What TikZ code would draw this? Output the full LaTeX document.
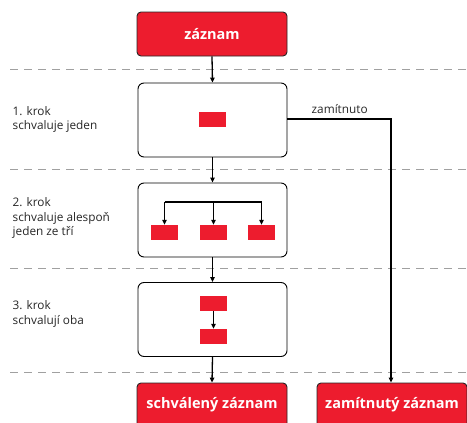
\documentclass[tikz,border=0pt]{standalone}
\usepackage{fontspec}
\setmainfont{Open Sans}
\usetikzlibrary{arrows.meta}
\definecolor{myred}{HTML}{ED1C2E}
\definecolor{dashgray}{HTML}{A0A0A0}
\begin{document}
\begin{tikzpicture}[x=1pt,y=-1pt,
  redbox/.style={draw=black!85,line width=0.9pt,fill=myred,rounded corners=4pt,minimum width=150pt,minimum height=44pt,inner sep=0pt,text=white,font=\fontsize{14.5}{16}\selectfont\bfseries},
  stepbox/.style={draw=black,line width=0.9pt,fill=white,rounded corners=6pt,minimum width=149pt,minimum height=74pt,inner sep=0pt},
  mini/.style={fill=myred,draw=none,minimum width=27pt,minimum height=15pt,inner sep=0pt},
  sep/.style={dashgray,line width=1pt,dash pattern=on 8pt off 6pt},
  lbl/.style={anchor=north west,align=left,font=\fontsize{11.8}{14.4}\selectfont,text=black!85,inner sep=0pt},
  arr/.style={line width=1.3pt,-{Triangle[length=5pt,width=4.5pt]}},
  ln/.style={line width=1.3pt}
]
\useasboundingbox (0,0) rectangle (467,423);
\begin{scope}
\clip (0,0) rectangle (467,423);
% separators
\foreach \yy in {69,169,268,372} \draw[sep] (10,\yy) -- (467,\yy);
% boxes
\node[redbox] (rec) at (212,34) {záznam};
\node[stepbox] (s1) at (212.5,120) {};
\node[stepbox] (s2) at (212.5,220) {};
\node[stepbox] (s3) at (212.5,319.5) {};
\node[redbox] (ok) at (212,405) {schválený záznam};
\node[redbox] (no) at (392,405) {zamítnutý záznam};
% inner
\node[mini] (m1) at (212.5,119.5) {};
\node[mini] (m2a) at (164.5,232.5) {};
\node[mini] (m2b) at (213.5,232.5) {};
\node[mini] (m2c) at (261.5,232.5) {};
\node[mini] (m3a) at (213.5,303.5) {};
\node[mini] (m3b) at (213.5,336.5) {};
\end{scope}
% labels
\node[lbl] (l1) at (12.5,106) {1. krok\\schvaluje jeden};
\node[lbl] (l2) at (12.5,197.5) {2. krok\\schvaluje alespoň\\jeden ze tří};
\node[lbl] (l3) at (12.5,300.5) {3. krok\\schvalují oba};
% connectors
\draw[arr] (rec.south) -- (s1.north);
\draw[arr] (s1.south) -- (s2.north);
\draw[arr] (s2.south) -- (s3.north);
\draw[arr] (s3.south) -- (ok.north);
\coordinate (b1) at (164.5,202);
\coordinate (b3) at (261.5,202);
\draw[ln] (b1) -- (b3);
\draw[arr] (b1) -- (m2a.north);
\draw[arr] (213.5,202) -- (m2b.north);
\draw[arr] (b3) -- (m2c.north);
\draw[arr] (m3a.south) -- (m3b.north);
\coordinate (rj) at (391,119);
\draw[arr] (s1.east |- rj) -- (rj) -- (no.north -| rj);
\node[font=\fontsize{11.8}{14}\selectfont,text=black!85,anchor=base west,inner sep=0pt] (zl) at (311.5,113) {zamítnuto};
\end{tikzpicture}
\end{document}
